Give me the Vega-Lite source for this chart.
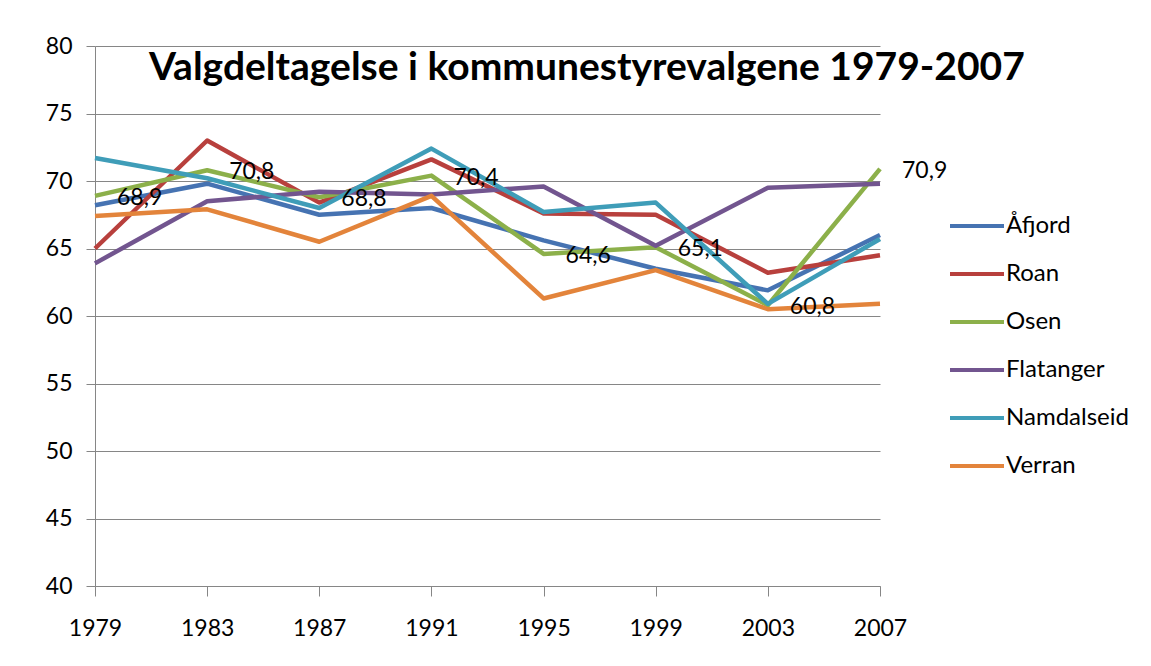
{
  "$schema": "https://vega.github.io/schema/vega-lite/v6.json",
  "width": 785,
  "height": 540,
  "autosize": {"type": "none"},
  "padding": {"left": 95, "top": 46, "right": 271, "bottom": 80},
  "background": "white",
  "title": {
    "text": "Valgdeltagelse i kommunestyrevalgene 1979-2007",
    "anchor": "start",
    "frame": "group",
    "orient": "top",
    "offset": -51,
    "dx": 54,
    "dy": 33,
    "baseline": "alphabetic",
    "font": "Lato",
    "fontSize": 39,
    "fontWeight": "bold",
    "color": "black"
  },
  "data": {
    "values": [
      {"kommune": "Åfjord", "year": 1979, "value": 68.2},
      {"kommune": "Åfjord", "year": 1983, "value": 69.8},
      {"kommune": "Åfjord", "year": 1987, "value": 67.5},
      {"kommune": "Åfjord", "year": 1991, "value": 68.0},
      {"kommune": "Åfjord", "year": 1995, "value": 65.6},
      {"kommune": "Åfjord", "year": 1999, "value": 63.5},
      {"kommune": "Åfjord", "year": 2003, "value": 61.9},
      {"kommune": "Åfjord", "year": 2007, "value": 66.0},
      {"kommune": "Roan", "year": 1979, "value": 65.0},
      {"kommune": "Roan", "year": 1983, "value": 73.0},
      {"kommune": "Roan", "year": 1987, "value": 68.4},
      {"kommune": "Roan", "year": 1991, "value": 71.6},
      {"kommune": "Roan", "year": 1995, "value": 67.6},
      {"kommune": "Roan", "year": 1999, "value": 67.5},
      {"kommune": "Roan", "year": 2003, "value": 63.2},
      {"kommune": "Roan", "year": 2007, "value": 64.5},
      {"kommune": "Osen", "year": 1979, "value": 68.9},
      {"kommune": "Osen", "year": 1983, "value": 70.8},
      {"kommune": "Osen", "year": 1987, "value": 68.8},
      {"kommune": "Osen", "year": 1991, "value": 70.4},
      {"kommune": "Osen", "year": 1995, "value": 64.6},
      {"kommune": "Osen", "year": 1999, "value": 65.1},
      {"kommune": "Osen", "year": 2003, "value": 60.8},
      {"kommune": "Osen", "year": 2007, "value": 70.9},
      {"kommune": "Flatanger", "year": 1979, "value": 63.9},
      {"kommune": "Flatanger", "year": 1983, "value": 68.5},
      {"kommune": "Flatanger", "year": 1987, "value": 69.2},
      {"kommune": "Flatanger", "year": 1991, "value": 69.0},
      {"kommune": "Flatanger", "year": 1995, "value": 69.6},
      {"kommune": "Flatanger", "year": 1999, "value": 65.2},
      {"kommune": "Flatanger", "year": 2003, "value": 69.5},
      {"kommune": "Flatanger", "year": 2007, "value": 69.8},
      {"kommune": "Namdalseid", "year": 1979, "value": 71.7},
      {"kommune": "Namdalseid", "year": 1983, "value": 70.2},
      {"kommune": "Namdalseid", "year": 1987, "value": 68.0},
      {"kommune": "Namdalseid", "year": 1991, "value": 72.4},
      {"kommune": "Namdalseid", "year": 1995, "value": 67.7},
      {"kommune": "Namdalseid", "year": 1999, "value": 68.4},
      {"kommune": "Namdalseid", "year": 2003, "value": 60.9},
      {"kommune": "Namdalseid", "year": 2007, "value": 65.7},
      {"kommune": "Verran", "year": 1979, "value": 67.4},
      {"kommune": "Verran", "year": 1983, "value": 67.9},
      {"kommune": "Verran", "year": 1987, "value": 65.5},
      {"kommune": "Verran", "year": 1991, "value": 68.9},
      {"kommune": "Verran", "year": 1995, "value": 61.3},
      {"kommune": "Verran", "year": 1999, "value": 63.4},
      {"kommune": "Verran", "year": 2003, "value": 60.5},
      {"kommune": "Verran", "year": 2007, "value": 60.9}
    ]
  },
  "encoding": {
    "x": {
      "field": "year",
      "type": "ordinal",
      "scale": {"type": "point", "padding": 0},
      "axis": {
        "title": null,
        "labelAngle": 0,
        "labelFont": "Lato",
        "labelFontSize": 23,
        "labelColor": "black",
        "labelBaseline": "middle",
        "labelPadding": 32,
        "tickSize": 10,
        "tickColor": "#868686",
        "domainColor": "#868686",
        "grid": false
      }
    },
    "y": {
      "field": "value",
      "type": "quantitative",
      "scale": {"domain": [40, 80], "nice": false, "zero": false},
      "axis": {
        "title": null,
        "values": [40, 45, 50, 55, 60, 65, 70, 75, 80],
        "labelFont": "Lato",
        "labelFontSize": 23,
        "labelColor": "black",
        "labelPadding": 14,
        "tickSize": 9,
        "tickColor": "#868686",
        "domainColor": "#868686",
        "gridColor": "#868686",
        "grid": true
      }
    }
  },
  "layer": [
    {
      "mark": {"type": "line", "strokeWidth": 4.5, "strokeJoin": "round"},
      "encoding": {
        "color": {
          "field": "kommune",
          "type": "nominal",
          "sort": ["Åfjord", "Roan", "Osen", "Flatanger", "Namdalseid", "Verran"],
          "scale": {
            "domain": ["Åfjord", "Roan", "Osen", "Flatanger", "Namdalseid", "Verran"],
            "range": ["#4673B2", "#B8403D", "#8CB04A", "#72558F", "#3F9DB8", "#E3843B"]
          },
          "legend": {
            "title": null,
            "orient": "none",
            "legendX": 853,
            "legendY": 169,
            "symbolType": "stroke",
            "symbolSize": 2916,
            "symbolStrokeWidth": 4,
            "clipHeight": 22,
            "rowPadding": 24,
            "labelFont": "Lato",
            "labelFontSize": 24,
            "labelColor": "black",
            "labelOffset": 0
          }
        }
      }
    },
    {
      "transform": [{"filter": "datum.kommune == 'Osen'"}],
      "mark": {"type": "text", "align": "left", "baseline": "middle", "dx": 22, "dy": 2, "font": "Lato", "fontSize": 23, "color": "black"},
      "encoding": {
        "text": {"field": "value", "type": "quantitative", "format": ".1f"}
      }
    }
  ],
  "config": {
    "locale": {
      "number": {"decimal": ",", "thousands": " ", "grouping": [3], "currency": ["", " kr"]}
    },
    "view": {"stroke": null},
    "axis": {"gridWidth": 1, "domainWidth": 1, "tickWidth": 1}
  }
}
